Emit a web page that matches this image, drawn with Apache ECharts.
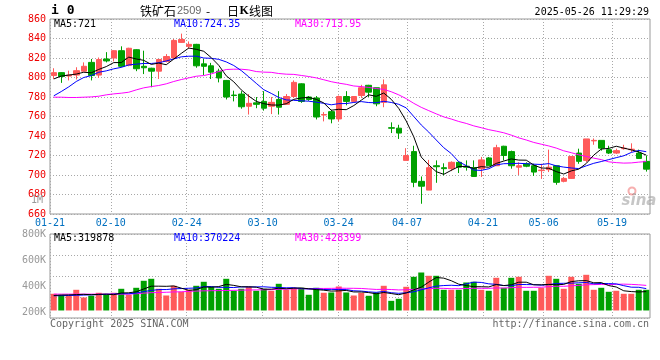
<!DOCTYPE html>
<html>
<head>
<meta charset="utf-8">
<script src="https://cdn.jsdelivr.net/npm/echarts@6.0.0/dist/echarts.min.js"></script>
<style>
html,body{margin:0;padding:0;background:#fff;}
#c{width:660px;height:360px;}
</style>
</head>
<body>
<div id="c"></div>
<script>
// ---------------- data ----------------
const dates = ['01-21','01-22','01-23','01-24','01-27','02-05','02-06','02-07','02-10','02-11',
  '02-12','02-13','02-14','02-17','02-18','02-19','02-20','02-21','02-24','02-25',
  '02-26','02-27','02-28','03-03','03-04','03-05','03-06','03-07','03-10','03-11',
  '03-12','03-13','03-14','03-17','03-18','03-19','03-20','03-21','03-24','03-25',
  '03-26','03-27','03-28','03-31','04-01','04-02','04-03','04-07','04-08','04-09',
  '04-10','04-11','04-14','04-15','04-16','04-17','04-18','04-21','04-22','04-23',
  '04-24','04-25','04-28','04-29','04-30','05-06','05-07','05-08','05-09','05-12',
  '05-13','05-14','05-15','05-16','05-19','05-20','05-21','05-22','05-23','05-26'];

const xLabelDays = ['01-21','02-10','02-24','03-10','03-24','04-07','04-21','05-06','05-19'];

const opens = [802,805,801.5,802.5,806.5,815.5,802.5,819,820,827.5,
  812.5,828.5,811.5,809.5,806.5,816.5,820,836,832,834,
  814,812,806.5,797,782,783,770.5,774,775.5,770.5,
  777.5,772.5,780.5,793.5,780,779,761.5,765,757.5,780.5,
  775.5,781.5,792,789.5,774.5,748.5,748,715,724,693.5,
  684.5,709.5,707.5,706.5,713,709,707.5,706.5,717.5,709.5,
  729.5,724,708,711.5,709.5,704.5,705.5,709.5,693.5,696.5,
  722.5,715,735,735.5,726,722.5,727,726,722.5,714];
const closes = [805,801,802.5,807,811.5,802,818.5,817,827.5,811.5,
  830,809,810,806.5,818.5,821.5,838,839,834,812,
  811.5,805.5,799.5,780,781.5,770,773.5,772.5,768.5,774.5,
  769.5,780.5,795,775.5,777.5,759.5,762,757.5,780.5,775.5,
  780.5,789.5,785,773,792.5,748,743,720,692.5,688.5,
  707.5,708.5,706.5,713,708,708,698.5,715.5,709.5,728,
  720,709.5,709.5,709,703,705,708,692.5,696.5,719,
  714,737,735.5,727.5,722.5,725,727.5,726.5,717,706];
const lows = [798.5,794.5,797,798,806.5,797,799.5,815.5,816.5,810.5,
  811.5,806.5,803.5,790,798.5,815.5,819,835.5,829.5,810,
  802.5,798.5,795,777.5,775.5,768,762,768.5,766,762.5,
  762,772,779,774,776,757,755,753,755,771.5,
  774.5,779,780,770.5,769.5,743,737,715,687.5,670.5,
  684.5,692,699.5,704,702,704.5,698,698,709.5,709.5,
  715,706.5,700,708,699,696,703,690,692.5,696,
  711.5,713,731,725,721.5,721.5,726,723.5,716.5,703.5];
const highs = [809.5,805.5,807,810.5,815.5,819,820.5,826,828,832,
  830.5,829,827.5,810,819,824,839.5,845,837,834.5,
  819,815,809,797.5,786.5,786,783,780,786,780,
  786,783,797,794,781,781,764.5,767,781.5,786,
  781,792.5,792.5,789.5,798,754,751.5,727.5,730,698.5,
  715.5,715,712,714,714,715,715,718.5,718.5,731,
  730,725,713,713,711.5,711.5,726,709.5,698,719,
  727,737,737.5,735.5,730,727,731,732.5,726,720];

const ma5 = [798.5,801.5,802.5,803.5,805.4,804.8,808.3,811.2,815.3,815.3,
  820.9,819,817.6,813.4,814.8,813.1,818.9,824.7,830.2,828.9,
  826.9,820.4,812.5,801.7,795.6,787.3,780.9,775.5,773.2,771.8,
  771.7,773.1,777.6,779,779.6,777.6,773.9,766.4,767.4,767,
  771.2,776.7,782.2,780.7,784.1,777.6,768.3,755.3,739.2,718.4,
  710.3,703.4,700.7,704.8,708.7,708.8,706.8,708.6,707.9,711.9,
  714.3,716.5,715.3,715.2,710.2,707.2,706.9,703.5,701,704.2,
  706,711.8,720.4,726.6,727.3,729.5,727.6,725.8,723.7,720.4];
const ma10 = [781.2,785.6,790.4,795.9,800,802,805.4,806.8,808.9,810.4,
  812.9,813.7,814.4,814.4,815.1,817,819,821.2,821.8,821.9,
  820,819.7,818.6,816,812.3,807.1,800.7,794,787.5,783.7,
  779.5,777,776.6,776.1,775.7,774.7,773.5,772,773.2,773.3,
  774.4,775.3,774.3,774.1,775.6,774.4,772.5,768.8,760,751.3,
  744,735.9,728,722,713.6,709.6,705.1,704.7,706.4,710.3,
  711.6,711.7,712,711.6,711.1,710.8,711.7,709.4,708.1,707.2,
  706.6,709.4,712,713.8,715.8,717.8,719.7,723.1,725.2,723.9];
const ma30 = [779.8,779.8,779.5,779.5,779.8,780.1,780.8,782.2,783.2,783.9,
  784.9,787.3,789.4,790.7,791.8,793.5,795.9,797.9,799.6,801.3,
  802,803.7,806.1,808.2,808.5,808.5,807.8,806.1,805.5,805.3,
  804.1,803.4,803.2,802.1,801,799.6,797.7,795.7,794.2,793,
  791.3,790.7,789.8,788.7,787.8,785.4,782.2,778.3,773.5,769.4,
  766,762.7,759.6,757.4,754.9,752.9,750.4,748.5,746.5,745,
  743.3,740.9,738.1,735.9,733.4,731.6,729.8,727.6,724.8,722.9,
  720.7,719,717.3,715.8,713.5,712.7,712.2,712.4,713.2,713.8];

// volume in thousands of lots
const volumes = [284,267,250,352,221,250,301,267,301,369,
  267,386,505,539,369,255,420,318,352,420,
  488,403,369,539,335,369,403,335,369,335,
  454,352,386,386,267,386,301,306,408,306,
  255,301,250,306,420,164,199,403,573,646,
  590,590,352,352,352,476,488,352,335,556,
  386,556,573,335,335,386,590,539,369,573,
  454,607,352,386,318,335,284,284,352,352];
const volMa5 = [255,262,265,270,274.8,268,274.8,278.2,268,297.6,
  301,318,365.6,413.2,413.2,410.8,417.6,380.2,342.8,353,
  399.6,396.2,406.4,443.8,426.8,403,403,396.2,362.2,362.2,
  379.2,369,379.2,382.6,369,355.4,345.2,329.2,333.6,341.4,
  315.2,315.2,304,283.6,306.4,288.2,267.8,298.4,351.8,397,
  482.2,560.4,550.2,506,447.2,424.4,404,404,400.6,441.4,
  423.4,437,481.2,481.2,437,437,443.8,437,443.8,491.4,
  505,508.4,471,474.4,423.4,399.6,335,321.4,314.6,321.4];
const volMa10 = [250,252,255,258,262,266,270,275,280,286.2,
  284.5,296.4,321.9,340.6,355.4,355.9,367.8,372.9,378,383.1,
  405.2,406.9,393.3,393.3,389.9,401.3,399.6,401.3,403,394.5,
  391.1,386,387.7,372.4,365.6,367.3,357.1,354.2,358.1,355.2,
  335.3,330.2,316.6,308.6,323.9,301.7,291.5,301.2,317.7,351.7,
  385.2,414.1,424.3,428.9,422.1,453.3,482.2,477.1,453.3,444.3,
  423.9,420.5,442.6,440.9,439.2,430.2,440.4,459.1,462.5,464.2,
  471,476.1,454,459.1,457.4,452.3,421.7,396.2,394.5,372.4];
const volMa30 = [278,278,278,278,278,278,278,278,278,278,
  278,285,295,303,306,310,315,318,325,330,
  334,336,338,340,343,346,348,350,352,354.6,
  360.3,363.1,367.6,368.8,370.3,374.8,374.8,376.1,379.7,377.6,
  377.2,374.4,365.9,358.1,359.8,356.8,349.4,352.2,359.6,367.1,
  370.5,376.8,376.2,370,370.5,374.1,376.9,377.5,376.4,383.7,
  381.5,388.3,394.5,392.8,395.1,395.1,404.7,412.5,411.2,420.1,
  426.7,436.9,440.3,443,439.6,445.3,448.1,444.1,436.8,427];

// axis tick labels
const priceMin = 660, priceMax = 860, priceStep = 20;
const volTickValues = [200, 400, 600, 800];   // shown as 200K..800K

// header / legend texts
const codeText = 'i 0';
const titleName = '铁矿石', titleCode = '2509', titleDash = '-', titleDay = '日', titleK = 'K', titleTail = '线图';
const stampText = '2025-05-26 11:29:29';
const priceLegend = ['MA5:721', 'MA10:724.35', 'MA30:713.95'];
const volLegend = ['MA5:319878', 'MA10:370224', 'MA30:428399'];
const unitText = '1M';
const copyText = 'Copyright 2025 SINA.COM';
const urlText = 'http://finance.sina.com.cn';
const logoText = 'sina';

// ---------------- styles ----------------
const UP = '#ff5a5a', DOWN = '#00a000';
const MONO = '"DejaVu Sans Mono","Liberation Mono",monospace';
const LEG_COLORS = ['#000000', '#0000ff', '#ff00ff'];
const dotted = {show: true, lineStyle: {color: '#a8a8a8', width: 1, type: [1, 2]}};
const isLabelDay = (i, v) => xLabelDays.indexOf(v) >= 0;

const candleData = dates.map((d, i) => [opens[i], closes[i], lows[i], highs[i]]);
const volData = volumes.map((v, i) => ({value: v, itemStyle: {color: closes[i] > opens[i] ? UP : DOWN}}));

function txt(x, y, text, font, fill, align, extra) {
  return Object.assign({type: 'text', x: x, y: y, z: 50,
    style: {text: text, font: font, fill: fill, align: align || 'left', verticalAlign: 'middle'}}, extra || {});
}

const chart = echarts.init(document.getElementById('c'), null, {renderer: 'canvas', width: 660, height: 360});

const lineS = (data, xi, yi, color) => ({
  type: 'line', xAxisIndex: xi, yAxisIndex: yi, data: data, symbol: 'none', silent: true,
  lineStyle: {color: color, width: 1}, z: 4, animation: false
});

chart.setOption({
  animation: false,
  backgroundColor: '#ffffff',
  grid: [
    {left: 50, top: 19, width: 600, height: 195, show: true, borderColor: '#999', borderWidth: 1,
      containLabel: false, outerBoundsMode: 'none'},
    {left: 50, top: 234, width: 600, height: 84, show: true, borderColor: '#999', borderWidth: 1,
      containLabel: false, outerBoundsMode: 'none'}
  ],
  xAxis: [
    {type: 'category', gridIndex: 0, data: dates, boundaryGap: true, show: false},
    {type: 'category', gridIndex: 0, data: dates, boundaryGap: false, position: 'bottom',
      axisLine: {show: false}, axisTick: {show: false},
      axisLabel: {interval: isLabelDay, color: '#0070c0', fontFamily: MONO, fontSize: 10, margin: 4},
      splitLine: Object.assign({interval: isLabelDay}, dotted)},
    {type: 'category', gridIndex: 1, data: dates, boundaryGap: true, show: false},
    {type: 'category', gridIndex: 1, data: dates, boundaryGap: false, position: 'bottom',
      axisLine: {show: false}, axisTick: {show: false}, axisLabel: {show: false},
      splitLine: Object.assign({interval: isLabelDay}, dotted)}
  ],
  yAxis: [
    {type: 'value', gridIndex: 0, position: 'left', min: priceMin, max: priceMax, interval: priceStep,
      axisLine: {show: false}, axisTick: {show: false},
      axisLabel: {color: '#ee0000', fontFamily: MONO, fontSize: 10, margin: 4},
      splitLine: dotted},
    {type: 'value', gridIndex: 1, position: 'left', min: -128, max: 1301, show: false, splitLine: {show: false}},
    {type: 'value', gridIndex: 1, position: 'left', min: 153.9, max: 800,
      axisLine: {show: false}, axisTick: {show: false}, splitLine: {show: false},
      axisLabel: {customValues: volTickValues, formatter: v => v + 'K',
        color: '#999999', fontFamily: MONO, fontSize: 10, margin: 4}},
    {type: 'value', gridIndex: 1, position: 'left', min: 0, max: 4, interval: 1,
      axisLine: {show: false}, axisTick: {show: false}, axisLabel: {show: false},
      splitLine: dotted}
  ],
  series: [
    {type: 'candlestick', xAxisIndex: 0, yAxisIndex: 0, data: candleData, barWidth: 6, silent: true, z: 3,
      itemStyle: {color: UP, color0: DOWN, borderColor: UP, borderColor0: DOWN, borderWidth: 1}},
    lineS(ma30, 0, 0, LEG_COLORS[2]),
    lineS(ma10, 0, 0, LEG_COLORS[1]),
    lineS(ma5, 0, 0, LEG_COLORS[0]),
    {type: 'bar', xAxisIndex: 2, yAxisIndex: 1, data: volData, barWidth: 6, silent: true, z: 3},
    lineS(volMa30, 2, 1, LEG_COLORS[2]),
    lineS(volMa10, 2, 1, LEG_COLORS[1]),
    lineS(volMa5, 2, 1, LEG_COLORS[0])
  ],
  graphic: [
    txt(51, 11, codeText, 'bold 13px ' + MONO, '#000'),
    txt(140, 11, titleName, '12px "Noto Sans CJK SC"', '#000'),
    txt(177, 11, titleCode, '11px "Liberation Sans", Arial, sans-serif', '#666'),
    txt(206, 11, titleDash, '12px "Noto Sans CJK SC"', '#000'),
    txt(227, 11, titleDay, '12px "Noto Sans CJK SC"', '#000'),
    txt(239.5, 11, titleK, 'bold 12px "Liberation Serif", serif', '#000'),
    txt(249, 11, titleTail, '12px "Noto Sans CJK SC"', '#000'),
    txt(649, 12, stampText, '10px ' + MONO, '#000', 'right'),
    txt(54, 24, priceLegend[0], '10px ' + MONO, LEG_COLORS[0]),
    txt(174, 24, priceLegend[1], '10px ' + MONO, LEG_COLORS[1]),
    txt(295, 24, priceLegend[2], '10px ' + MONO, LEG_COLORS[2]),
    txt(54, 238.5, volLegend[0], '10px ' + MONO, LEG_COLORS[0]),
    txt(174, 238.5, volLegend[1], '10px ' + MONO, LEG_COLORS[1]),
    txt(295, 238.5, volLegend[2], '10px ' + MONO, LEG_COLORS[2]),
    txt(43, 200, unitText, '10px ' + MONO, '#999', 'right'),
    txt(50, 324.5, copyText, '10px ' + MONO, '#666'),
    txt(649, 324.5, urlText, '10px ' + MONO, '#666', 'right'),
    {type: 'circle', x: 632, y: 191, z: 1, shape: {r: 3.5},
      style: {fill: 'none', stroke: 'rgba(240,110,110,0.55)', lineWidth: 2}},
    txt(639, 201, logoText, 'italic bold 15px "DejaVu Sans", sans-serif', 'rgba(160,160,160,0.6)', 'center', {z: 1})
  ]
});
</script>
</body>
</html>
